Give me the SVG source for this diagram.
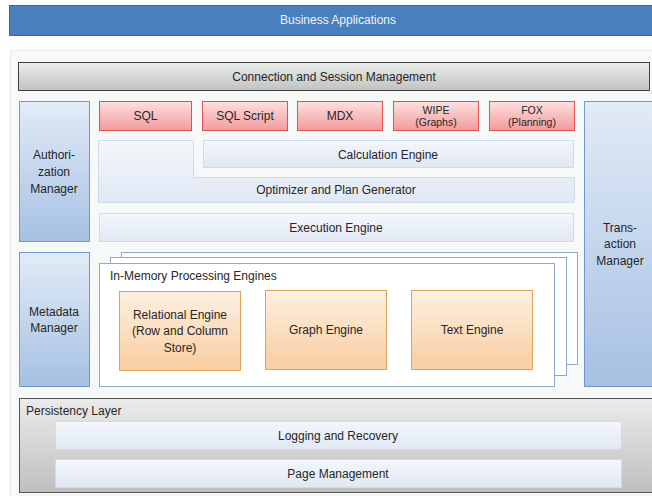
<svg xmlns="http://www.w3.org/2000/svg" width="652" height="496" viewBox="0 0 652 496">
<defs>
<linearGradient id="gGray" x1="0" y1="0" x2="0" y2="1"><stop offset="0" stop-color="#ebecec"/><stop offset="1" stop-color="#c2c2c2"/></linearGradient>
<linearGradient id="gRed" x1="0" y1="0" x2="0" y2="1"><stop offset="0" stop-color="#fde0e0"/><stop offset="1" stop-color="#f39b9b"/></linearGradient>
<linearGradient id="gBlue" x1="0" y1="0" x2="0" y2="1"><stop offset="0" stop-color="#e2ebf7"/><stop offset="1" stop-color="#a6c0e3"/></linearGradient>
<linearGradient id="gLight" x1="0" y1="0" x2="0" y2="1"><stop offset="0" stop-color="#f4f7fb"/><stop offset="1" stop-color="#e0e8f5"/></linearGradient>
<linearGradient id="gOrange" x1="0" y1="0" x2="0" y2="1"><stop offset="0" stop-color="#fdf0e2"/><stop offset="1" stop-color="#f9cd9f"/></linearGradient>
<linearGradient id="gPers" x1="0" y1="0" x2="0" y2="1"><stop offset="0" stop-color="#ebebeb"/><stop offset="1" stop-color="#bfbfbf"/></linearGradient>
</defs>
<style>
text{font-family:"Liberation Sans",Arial,sans-serif;font-size:12px;fill:#262626;text-anchor:middle}
.small{font-size:10.5px}
.red{fill:url(#gRed);stroke:#e0504f;stroke-width:1}
.blue{fill:url(#gBlue);stroke:#6f98cc;stroke-width:1}
.light{fill:url(#gLight);stroke:#cfdbec;stroke-width:1}
.orange{fill:url(#gOrange);stroke:#dca35a;stroke-width:1}
.mem{fill:#ffffff;stroke:#8ea9cc;stroke-width:1}
</style>
<rect x="0" y="0" width="652" height="496" fill="#ffffff"/>
<g id="business">
<rect x="9.5" y="5.5" width="650" height="30" fill="#4a7fbd" stroke="#3b6698" stroke-width="1"/>
<text x="338" y="24" style="fill:#eef3fa">Business Applications</text>
</g>
<g id="panel">
<rect x="10.5" y="50.5" width="650" height="450" fill="#f7f8f8" stroke="#e6e8e9" stroke-width="1"/>
</g>
<g id="connection">
<rect x="18.5" y="62.5" width="631" height="28" fill="url(#gGray)" stroke="#404040" stroke-width="1"/>
<text x="334" y="81">Connection and Session Management</text>
</g>
<g id="authorization">
<rect x="19.5" y="101.5" width="70" height="140" class="blue"/>
<text x="54" y="159">Authori-</text>
<text x="54" y="176">zation</text>
<text x="54" y="193">Manager</text>
</g>
<g id="sql"><rect x="99.5" y="101.5" width="92" height="29" class="red"/><text x="145.5" y="120">SQL</text></g>
<g id="sqlscript"><rect x="202.5" y="101.5" width="85" height="29" class="red"/><text x="245" y="120">SQL Script</text></g>
<g id="mdx"><rect x="297.5" y="101.5" width="85" height="29" class="red"/><text x="340" y="120">MDX</text></g>
<g id="wipe"><rect x="393.5" y="101.5" width="85" height="29" class="red"/><text x="436" y="114" class="small">WIPE</text><text x="436" y="126" class="small">(Graphs)</text></g>
<g id="fox"><rect x="489.5" y="101.5" width="85" height="29" class="red"/><text x="532" y="114" class="small">FOX</text><text x="532" y="126" class="small">(Planning)</text></g>
<g id="optimizer">
<path d="M98.5,140.5 H193.5 V177.5 H574.5 V202.5 H98.5 Z" class="light"/>
<text x="336" y="194">Optimizer and Plan Generator</text>
</g>
<g id="calculation">
<rect x="203.5" y="140.5" width="370" height="27" class="light"/>
<text x="388" y="159">Calculation Engine</text>
</g>
<g id="execution">
<rect x="99.5" y="213.5" width="474" height="28" class="light"/>
<text x="336" y="232">Execution Engine</text>
</g>
<g id="transaction">
<rect x="584.5" y="101.5" width="80" height="285" class="blue"/>
<text x="620" y="232">Trans-</text>
<text x="620" y="248">action</text>
<text x="620" y="265">Manager</text>
</g>
<g id="metadata">
<rect x="19.5" y="252.5" width="70" height="134" class="blue"/>
<text x="54" y="316">Metadata</text>
<text x="54" y="332">Manager</text>
</g>
<g id="inmemory">
<rect x="121.5" y="252.5" width="456" height="112" class="mem"/>
<rect x="110.5" y="257.5" width="456" height="118" class="mem"/>
<rect x="99.5" y="263.5" width="455" height="123" class="mem"/>
<text x="110" y="280" style="text-anchor:start">In-Memory Processing Engines</text>
</g>
<g id="relational">
<rect x="119.5" y="291.5" width="121" height="79" class="orange"/>
<text x="180" y="319">Relational Engine</text>
<text x="180" y="335">(Row and Column</text>
<text x="180" y="352">Store)</text>
</g>
<g id="graph">
<rect x="265.5" y="290.5" width="121" height="79" class="orange"/>
<text x="326" y="334">Graph Engine</text>
</g>
<g id="textengine">
<rect x="411.5" y="290.5" width="121" height="79" class="orange"/>
<text x="472" y="334">Text Engine</text>
</g>
<g id="persistency">
<rect x="19.5" y="398.5" width="650" height="94" fill="url(#gPers)" stroke="#555555" stroke-width="1"/>
<text x="26" y="415" style="text-anchor:start">Persistency Layer</text>
</g>
<g id="logging">
<rect x="55.5" y="421.5" width="566" height="28" class="light"/>
<text x="338" y="440">Logging and Recovery</text>
</g>
<g id="page">
<rect x="55.5" y="459.5" width="566" height="28" class="light"/>
<text x="338" y="478">Page Management</text>
</g>
<g id="connectors"></g>
</svg>
